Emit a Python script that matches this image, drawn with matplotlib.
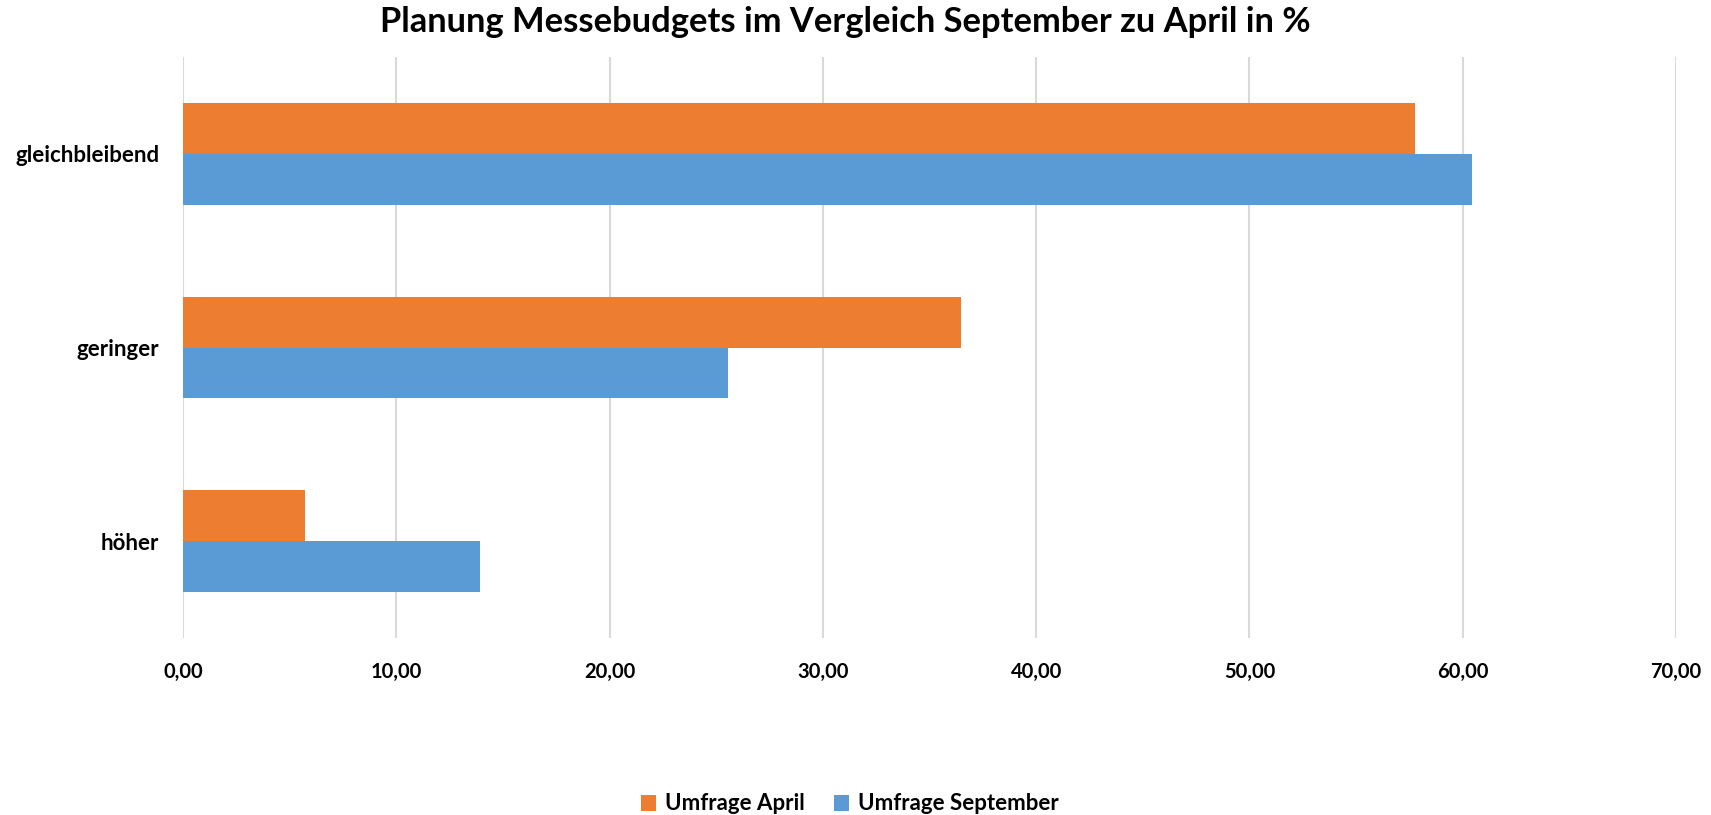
import matplotlib
matplotlib.use("Agg")
import matplotlib.pyplot as plt
import numpy as np
from matplotlib.ticker import FuncFormatter, MultipleLocator

categories = ["gleichbleibend", "geringer", "höher"]
april = [57.75, 36.5, 5.72]
september = [60.44, 25.56, 13.94]
series_names = ["Umfrage April", "Umfrage September"]
title = "Planung Messebudgets im Vergleich September zu April in %"

FONT = "Lato"
W, H = 1711, 815
fig = plt.figure(figsize=(W / 100, H / 100), dpi=100)
ax = fig.add_axes([183 / W, 1 - 638 / H, (1676 - 183) / W, (638 - 57) / H])

y = np.arange(len(categories))
h = 0.262
ax.barh(y - h / 2, april, height=h, color="#ED7D31", label=series_names[0], zorder=3)
ax.barh(y + h / 2, september, height=h, color="#5B9BD5", label=series_names[1], zorder=3)

ax.set_ylim(len(categories) - 0.5, -0.5)
ax.set_xlim(0, 70)
ax.xaxis.set_major_locator(MultipleLocator(10))
ax.xaxis.set_major_formatter(FuncFormatter(lambda v, p: f"{v:.2f}".replace(".", ",")))
ax.grid(axis="x", color="#D9D9D9", linewidth=1.5, zorder=0)
ax.set_yticks(y)
ax.set_yticklabels(categories)
for s in ax.spines.values():
    s.set_visible(False)
ax.tick_params(axis="both", length=0)
ax.tick_params(axis="x", pad=17)
ax.tick_params(axis="y", pad=17)
for lab in ax.get_xticklabels():
    lab.set_fontfamily(FONT)
    lab.set_fontweight("bold")
    lab.set_fontsize(14.5)
for lab in ax.get_yticklabels():
    lab.set_fontfamily(FONT)
    lab.set_fontweight("bold")
    lab.set_fontsize(16)

fig.text(845 / W, 1 - 22 / H, title, ha="center", va="center",
         fontfamily=FONT, fontweight="bold", fontsize=24.8)

leg = fig.legend(loc="center", bbox_to_anchor=(850 / W, 1 - 804 / H), ncol=2, frameon=False,
                 prop={"family": FONT, "weight": "bold", "size": 16},
                 handlelength=0.7, handleheight=0.7, handletextpad=0.4, columnspacing=1.3)

fig.savefig("out.png", dpi=100)
